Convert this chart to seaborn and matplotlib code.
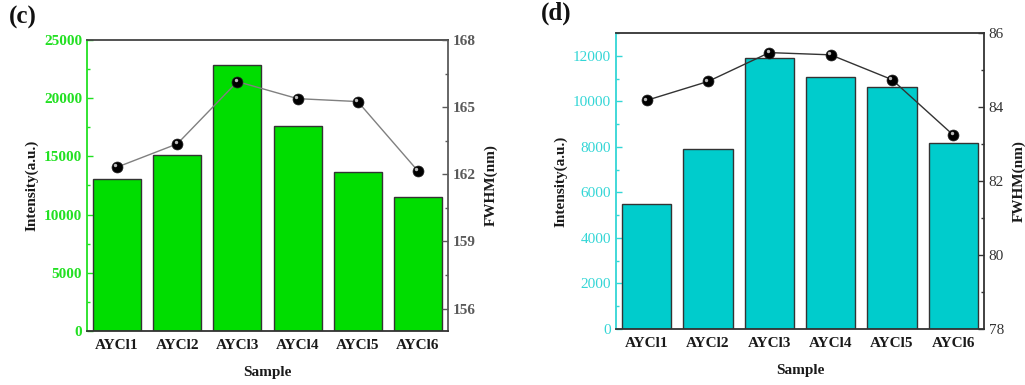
import matplotlib
matplotlib.use("Agg")
import matplotlib.pyplot as plt
import seaborn as sns
import pandas as pd
from matplotlib.ticker import MultipleLocator

sns.set_theme(style="white")
plt.rcParams["font.family"] = ["Liberation Serif", "DejaVu Serif"]
plt.rcParams["mathtext.fontset"] = "stix"

samples = ["AYCl1", "AYCl2", "AYCl3", "AYCl4", "AYCl5", "AYCl6"]

# panel (c)
intensity_c = [13050, 15120, 22830, 17580, 13660, 11480]
fwhm_c = [162.32, 163.36, 166.14, 165.38, 165.25, 162.15]

# panel (d)
intensity_d = [5510, 7910, 11900, 11080, 10620, 8150]
fwhm_d = [84.18, 84.69, 85.47, 85.41, 84.74, 83.24]

fig = plt.figure(figsize=(10.25, 3.85), dpi=100)


def panel(rect, inten, fwhm, bar_color, tick_color, left_bold, right_bold,
          ylim, ystep, yminor, rlim, rstep, rminor, right_color, top_color,
          line_color, letter, letter_pos):
    ax = fig.add_axes(rect)
    df = pd.DataFrame({"Sample": samples, "Intensity": inten, "FWHM": fwhm})
    sns.barplot(data=df, x="Sample", y="Intensity", ax=ax, color=bar_color,
                saturation=1, width=0.8, edgecolor="#333333", linewidth=1.0)
    ax.set_xlim(-0.5, 5.5)
    ax.set_ylim(*ylim)
    ax.yaxis.set_major_locator(MultipleLocator(ystep))
    ax.yaxis.set_minor_locator(MultipleLocator(yminor))
    ax.tick_params(axis="y", which="major", direction="in", length=4,
                   width=1, colors=tick_color, labelsize=11, left=True)
    ax.tick_params(axis="y", which="minor", direction="in", length=2.5,
                   width=1, colors=tick_color, left=True)
    ax.tick_params(axis="x", length=0, labelsize=11, pad=6)
    for lab in ax.get_yticklabels():
        lab.set_fontweight("bold" if left_bold else "normal")
    for lab in ax.get_xticklabels():
        lab.set_fontweight("bold")
        lab.set_color("#1a1a1a")
    ax.set_xlabel("Sample", fontsize=11, fontweight="bold", labelpad=10,
                  color="#1a1a1a")
    ax.set_ylabel("Intensity(a.u.)", fontsize=11, fontweight="bold",
                  color="#1a1a1a", labelpad=4)
    for side in ["top", "bottom", "right", "left"]:
        ax.spines[side].set_linewidth(1.3)
    ax.spines["left"].set_color(tick_color)
    ax.spines["top"].set_color(top_color)
    ax.spines["bottom"].set_color("#333333")

    ax2 = ax.twinx()
    sns.lineplot(data=df, x="Sample", y="FWHM", ax=ax2, color=line_color,
                 linewidth=1.0, sort=False)
    sns.scatterplot(data=df, x="Sample", y="FWHM", ax=ax2, color="black",
                    s=62, edgecolor="#222222", linewidth=0.5, zorder=5)
    # small gloss highlight on each sphere
    ax2.scatter(range(len(fwhm)), fwhm, s=6, color="#bbbbbb", zorder=6,
                linewidths=0, marker="o",
                transform=ax2.transData + matplotlib.transforms.ScaledTranslation(
                    -1.2 / 72, 1.2 / 72, fig.dpi_scale_trans))
    ax2.set_xlim(-0.5, 5.5)
    ax2.set_ylim(*rlim)
    ax2.yaxis.set_major_locator(MultipleLocator(rstep))
    ax2.yaxis.set_minor_locator(MultipleLocator(rminor))
    ax2.tick_params(axis="y", which="major", direction="in", length=4,
                    width=1, colors=right_color, labelsize=11, right=True)
    ax2.tick_params(axis="y", which="minor", direction="in", length=2.5,
                    width=1, colors=right_color, right=True)
    for lab in ax2.get_yticklabels():
        lab.set_fontweight("bold" if right_bold else "normal")
    ax2.set_ylabel("FWHM(nm)", fontsize=11, fontweight="bold",
                   color="#1a1a1a", labelpad=6)
    ax2.set_xlabel("")
    for side in ["top", "bottom", "right", "left"]:
        ax2.spines[side].set_visible(False)
    ax.spines["right"].set_color(right_color)
    fig.text(letter_pos[0], letter_pos[1], letter, fontsize=18,
             fontweight="bold", color="#111111", ha="left", va="top")
    return ax, ax2


panel([87 / 1025, 1 - 331 / 385, 361 / 1025, 291 / 385], intensity_c, fwhm_c,
      "#00dd00", "#22e022", True, True, (0, 25000), 5000, 2500,
      (155, 168), 3, 1.5, "#5a5a5a", "#444444", "#808080", "(c)",
      (9 / 1025, 1 - 6 / 385))

panel([616 / 1025, 1 - 329 / 385, 368 / 1025, 296 / 385], intensity_d, fwhm_d,
      "#00cccc", "#33d6d6", False, False, (0, 13000), 2000, 1000,
      (78, 86), 2, 1, "#333333", "#333333", "#333333", "(d)",
      (541 / 1025, 1 - 2 / 385))

fig.savefig("out.png", dpi=100)
